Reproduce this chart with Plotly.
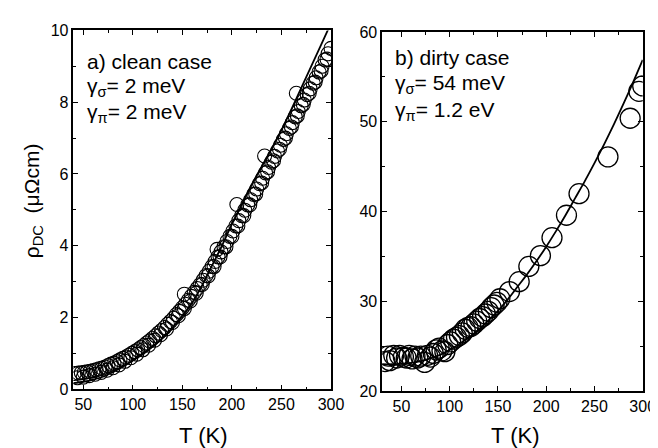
import plotly.graph_objects as go

# ---- panel a) clean case ----
clean_T = [41, 45, 48, 51, 54, 57, 60, 63, 66, 69, 72, 75, 78, 81, 84, 87, 90, 93, 96, 99,
           102, 105, 108, 111, 114, 117, 120, 123, 126, 129, 132, 135, 138, 141, 144, 147, 150,
           153, 156, 159, 162, 165, 168, 171, 174, 177, 180, 183, 186, 189, 192, 195, 198, 201,
           204, 207, 210, 213, 216, 219, 222, 225, 228, 231, 234, 237, 240, 243, 246, 249, 252,
           255, 258, 261, 264, 267, 270, 273, 276, 279, 282, 285, 288, 291, 294, 297, 300]
clean_rho = [0.44, 0.45, 0.46, 0.47, 0.49, 0.50, 0.52, 0.54, 0.57, 0.59, 0.62, 0.66, 0.70, 0.73,
             0.77, 0.82, 0.86, 0.90, 0.95, 1.00, 1.05, 1.10, 1.16, 1.22, 1.29, 1.35, 1.42, 1.49,
             1.57, 1.64, 1.72, 1.81, 1.89, 1.98, 2.08, 2.17, 2.27, 2.37, 2.48, 2.59, 2.70, 2.81,
             2.92, 3.04, 3.17, 3.29, 3.42, 3.56, 3.69, 3.83, 3.97, 4.12, 4.26, 4.41, 4.55, 4.70,
             4.84, 4.99, 5.14, 5.28, 5.43, 5.58, 5.73, 5.88, 6.03, 6.18, 6.33, 6.49, 6.64, 6.80,
             6.96, 7.12, 7.27, 7.43, 7.59, 7.74, 7.90, 8.06, 8.21, 8.37, 8.53, 8.68, 8.84, 9.00,
             9.18, 9.35, 9.50]
# second (lower) sweep of the clean-case data band
clean2_T = [44, 50, 56, 62, 68, 74, 80, 86, 92, 98, 104, 110, 116, 122, 128, 134, 140, 146, 152,
            158, 164, 170, 176, 182, 188, 194, 200, 206, 212, 218, 224, 230, 236, 242, 248, 254,
            260, 266, 272, 278, 284, 290, 296]
clean2_rho = [0.32, 0.34, 0.38, 0.42, 0.47, 0.53, 0.60, 0.68, 0.78, 0.88, 0.98, 1.10, 1.23,
              1.37, 1.52, 1.68, 1.86, 2.05, 2.25, 2.46, 2.68, 2.92, 3.16, 3.42, 3.69, 3.97,
              4.26, 4.55, 4.84, 5.14, 5.44, 5.75, 6.06, 6.37, 6.69, 7.00, 7.31, 7.62, 7.94,
              8.25, 8.56, 8.87, 9.20]
clean_extra_T = [152, 185, 205, 233, 265]
clean_extra_rho = [2.65, 3.90, 5.15, 6.50, 8.25]

clean_fit_T = [40, 50, 60, 70, 80, 90, 100, 110, 120, 130, 140, 150, 160, 170, 180, 190, 200,
               210, 220, 230, 240, 250, 260, 270, 280, 290, 300]
clean_fit_rho = [0.17, 0.21, 0.27, 0.35, 0.48, 0.63, 0.80, 1.00, 1.20, 1.43, 1.72, 2.05, 2.42,
                 2.90, 3.45, 4.00, 4.60, 5.15, 5.70, 6.20, 6.70, 7.22, 7.80, 8.40, 9.00, 9.60,
                 10.20]

# ---- panel b) dirty case ----
dirty_T = [33, 36, 38, 42, 45, 48, 52, 55, 58, 61, 64, 67, 70, 74, 77, 80, 83, 86, 89, 92, 95,
           98, 101, 104, 107, 110, 113, 116, 119, 122, 125, 128, 131, 134, 137, 140, 143, 146,
           149, 152, 162, 172, 182, 194, 206, 221, 234, 264, 287, 296, 300]
dirty_rho = [23.3, 23.9, 23.4, 24.0, 23.7, 24.0, 23.8, 23.7, 24.0, 23.6, 23.9, 23.7, 23.9, 23.2,
             24.0, 23.8, 24.2, 24.6, 24.8, 24.5, 24.4, 25.2, 25.5, 25.8, 26.0, 26.2, 26.5, 26.9,
             27.1, 27.2, 27.5, 27.8, 28.1, 28.3, 28.6, 28.9, 29.3, 29.6, 29.9, 30.3, 31.1, 32.2,
             33.9, 35.1, 37.1, 39.6, 42.0, 46.1, 50.4, 53.4, 54.0]

dirty_fit_T = [30, 40, 50, 60, 70, 80, 90, 100, 110, 120, 130, 140, 150, 160, 170, 180, 190,
               200, 210, 220, 230, 240, 250, 260, 270, 280, 290, 300]
dirty_fit_rho = [23.0, 23.0, 23.05, 23.15, 23.35, 23.65, 24.05, 24.6, 25.25, 26.0, 26.85, 27.85,
                 28.95, 30.2, 31.6, 33.0, 34.5, 36.1, 37.8, 39.6, 41.5, 43.4, 45.4, 47.5, 49.7,
                 52.0, 54.4, 56.9]

x_ticks = [50, 100, 150, 200, 250, 300]

FONT = "Liberation Sans, Arial, sans-serif"
W, H = 658, 448

fig = go.Figure()

circ_a = dict(symbol="circle-open", size=14, color="black", line=dict(width=1.1, color="black"))
circ_b = dict(symbol="circle-open", size=20, color="black", line=dict(width=1.3, color="black"))

fig.add_trace(go.Scatter(x=clean2_T, y=clean2_rho, mode="markers", marker=circ_a,
                         xaxis="x", yaxis="y", showlegend=False))
fig.add_trace(go.Scatter(x=clean_T, y=clean_rho, mode="markers", marker=circ_a,
                         xaxis="x", yaxis="y", showlegend=False))
fig.add_trace(go.Scatter(x=clean_extra_T, y=clean_extra_rho, mode="markers", marker=circ_a,
                         xaxis="x", yaxis="y", showlegend=False))
fig.add_trace(go.Scatter(x=clean_fit_T, y=clean_fit_rho, mode="lines",
                         line=dict(color="black", width=1.8, shape="spline", smoothing=0.8),
                         xaxis="x", yaxis="y", showlegend=False))

fig.add_trace(go.Scatter(x=dirty_T, y=dirty_rho, mode="markers", marker=circ_b,
                         xaxis="x2", yaxis="y2", showlegend=False))
fig.add_trace(go.Scatter(x=dirty_fit_T, y=dirty_fit_rho, mode="lines",
                         line=dict(color="black", width=1.8, shape="spline", smoothing=0.8),
                         xaxis="x2", yaxis="y2", showlegend=False))

axis_common = dict(showline=True, linecolor="black", linewidth=1.5, mirror="ticks",
                   ticks="inside", ticklen=5, tickwidth=1.3, tickcolor="black",
                   showgrid=False, zeroline=False,
                   tickfont=dict(family=FONT, size=16, color="black"))

fig.update_layout(
    width=W, height=H,
    margin=dict(l=0, r=0, t=0, b=0),
    paper_bgcolor="white", plot_bgcolor="white",
    xaxis=dict(domain=[66.7 / W, 329.5 / W], range=[40, 300], tickvals=x_ticks,
               minor=dict(dtick=25, tick0=25, ticks="inside", ticklen=3, tickcolor="black"),
               anchor="y", **axis_common),
    yaxis=dict(domain=[1 - 388 / H, 1 - 15 / H], range=[0, 10], dtick=2,
               minor=dict(dtick=1, ticks="inside", ticklen=3, tickcolor="black"),
               anchor="x", **axis_common),
    xaxis2=dict(domain=[381.7 / W, 647.5 / W], range=[30, 300], tickvals=x_ticks,
                minor=dict(dtick=25, tick0=25, ticks="inside", ticklen=3, tickcolor="black"),
                anchor="y2", **axis_common),
    yaxis2=dict(domain=[1 - 390 / H, 1 - 16.7 / H], range=[20, 60], dtick=10,
                minor=dict(dtick=5, ticks="inside", ticklen=3, tickcolor="black"),
                anchor="x2", **axis_common),
)

def ann(text, x, y, size=21, **kw):
    fig.add_annotation(text=text, x=x / W, y=1 - y / H, xref="paper", yref="paper",
                       showarrow=False, font=dict(family=FONT, size=size, color="black"), **kw)

# panel labels
ann("a) clean case", 79, 47, xanchor="left", yanchor="middle")
ann("γ<sub>σ</sub>= 2 meV", 79, 74, xanchor="left", yanchor="middle")
ann("γ<sub>π</sub>= 2 meV", 79, 101, xanchor="left", yanchor="middle")
ann("b) dirty case", 393, 43, xanchor="left", yanchor="middle")
ann("γ<sub>σ</sub>= 54 meV", 393, 71, xanchor="left", yanchor="middle")
ann("γ<sub>π</sub>= 1.2 eV", 393, 99, xanchor="left", yanchor="middle")

# axis titles
ann("T (K)", 199, 436, size=22, xanchor="center", yanchor="middle")
ann("T (K)", 517, 436, size=22, xanchor="center", yanchor="middle")
ann("ρ<sub>DC</sub>  (μΩcm)", 25, 192, size=21, textangle=-90, xanchor="center", yanchor="middle")

fig.write_html("out.html")
